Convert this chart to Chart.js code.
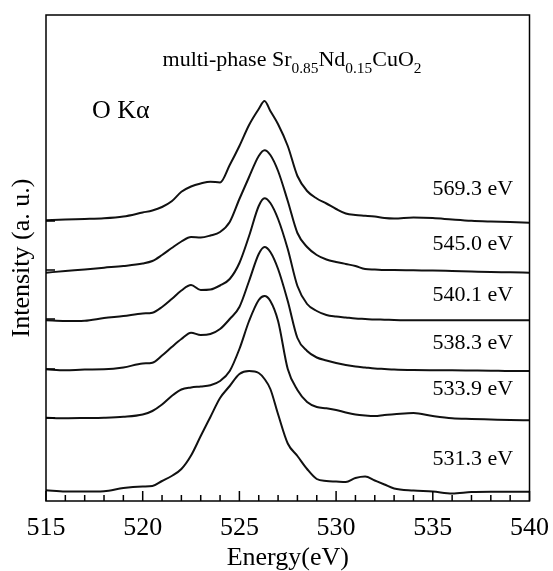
<!DOCTYPE html>
<html lang="en">
<head>
  <meta charset="UTF-8" />
  <title>O K-alpha emission spectra</title>
  <script src="https://cdn.jsdelivr.net/npm/chart.js"></script>
  <style>
    body { margin: 0; background: #fff; }
    #wrap { width: 553px; height: 571px; }
  </style>
</head>
<body>
  <div id="wrap"><canvas id="spectra"></canvas></div>

  <script>
    // energy grid (eV), shared by all spectra
    const energies = [515, 516, 517, 518, 519, 520, 520.5, 521, 521.5, 522, 522.5, 523, 523.5, 524, 524.5,
      525, 525.5, 526, 526.3, 526.6, 527, 527.5, 528, 528.5, 529, 529.5, 530, 530.5, 531, 531.5,
      532, 532.5, 533, 534, 535, 536, 537, 538, 539, 540];

    // excitation energies, top to bottom
    const excitation = ["569.3 eV", "545.0 eV", "540.1 eV", "538.3 eV", "533.9 eV", "531.3 eV"];

    // intensities (a.u., already stacked with offsets)
    const s569 = [280.7, 281.5, 282, 282.7, 284.5, 288.5, 290.5, 294, 299.7, 309.2, 314.5, 317.5, 319.3, 318.5, 336,
      355, 376, 392, 400, 390, 376.7, 355, 325, 310, 302.5, 297.5, 292, 287.5, 286, 285.3,
      284.5, 283, 282.5, 283.5, 283, 281.5, 280.2, 279.5, 279, 278.3];
    const s545 = [228.3, 230, 231.5, 233.3, 235, 237.5, 240, 246, 253, 259.5, 264, 263.5, 265.5, 269, 279,
      302, 324, 345, 350.7, 346, 330, 300, 268, 254, 246, 241.5, 239, 237, 235, 232,
      231.5, 231, 231, 230.7, 230.5, 230, 229.5, 229, 228.7, 228.3];
    const s540 = [180.7, 180, 180.3, 183, 185, 187.5, 188.3, 194, 202, 210.5, 216, 211, 211.5, 215.5, 222,
      238, 265, 295, 302.7, 298, 282, 252, 215, 197, 190, 186, 184.5, 183.5, 182.5, 182,
      181.5, 181.3, 181, 180.7, 180.7, 180.7, 180.7, 180.7, 180.7, 180.7];
    const s538 = [131.7, 130.7, 131.5, 131.7, 133.5, 137.5, 138.3, 145.5, 154, 162, 168.3, 166, 167, 172, 182,
      194, 220, 247, 254, 249, 232, 200, 163, 150, 143.5, 140.5, 138, 136, 134.5, 133.5,
      132.5, 132, 131.5, 131, 130.8, 130.7, 130.5, 130.3, 130, 130];
    const s533 = [83.3, 82.8, 83, 83.3, 84.2, 86.5, 90, 96.5, 105, 111.5, 113.5, 114.5, 115.7, 120, 130,
      152, 180, 201, 205, 200, 180, 132, 111, 99, 94, 92.7, 91, 88.5, 86.5, 85.5,
      85, 86, 86.7, 88, 85, 82.7, 82, 81.5, 81, 80.7];
    const s531 = [10.7, 9.5, 9.5, 9.8, 13, 14.5, 15, 20, 25, 32, 45.5, 65, 84, 103, 115,
      127, 130, 128, 122, 112, 86.7, 57.5, 45, 32, 22, 20, 19.5, 19, 23, 24.5,
      20.5, 16.5, 12.5, 10.5, 9.5, 7.5, 9, 9.3, 9.3, 9.3];

    const spectra = [s569, s545, s540, s538, s533, s531];

    // left-axis ticks sit at the spectra baselines
    const baselineTicks = [280, 231, 182, 132, 83];

    const serif = "'Liberation Serif', 'Times New Roman', serif";

    function drawParts(ctx, parts, x, y, size) {
      // text with subscripts, centred on x
      let total = 0;
      parts.forEach(p => {
        ctx.font = (p.sub ? size * 0.7 : size) + "px " + serif;
        total += ctx.measureText(p.t).width;
      });
      let cx = x - total / 2;
      parts.forEach(p => {
        ctx.font = (p.sub ? size * 0.7 : size) + "px " + serif;
        ctx.fillText(p.t, cx, p.sub ? y + size * 0.3 : y);
        cx += ctx.measureText(p.t).width;
      });
    }

    const decor = {
      id: "decor",
      afterDraw(chart) {
        const { ctx, chartArea: a, scales: { x, y } } = chart;
        ctx.save();
        ctx.strokeStyle = "#000";
        ctx.fillStyle = "#000";
        ctx.lineWidth = 1.5;
        ctx.strokeRect(a.left, a.top, a.right - a.left, a.bottom - a.top);

        // inward ticks
        ctx.beginPath();
        x.ticks.forEach(t => {
          const px = x.getPixelForValue(t.value);
          const len = t.value % 5 === 0 ? 10 : 6;
          ctx.moveTo(px, a.bottom);
          ctx.lineTo(px, a.bottom - len);
        });
        y.ticks.forEach(t => {
          const py = y.getPixelForValue(t.value);
          ctx.moveTo(a.left, py);
          ctx.lineTo(a.left + 9, py);
        });
        ctx.stroke();

        // excitation energy labels
        const labelY = [312, 257, 206, 158, 112, 42];
        ctx.font = "22px " + serif;
        ctx.textAlign = "right";
        ctx.textBaseline = "middle";
        excitation.forEach((txt, i) => {
          ctx.fillText(txt, x.getPixelForValue(539.15), y.getPixelForValue(labelY[i]));
        });

        // title and line label
        ctx.textAlign = "left";
        ctx.textBaseline = "alphabetic";
        drawParts(ctx, [
          { t: "multi-phase Sr" }, { t: "0.85", sub: true },
          { t: "Nd" }, { t: "0.15", sub: true },
          { t: "CuO" }, { t: "2", sub: true }
        ], 292, 66, 22);
        ctx.font = "26px " + serif;
        ctx.fillText("O K\u03b1", 92, 118);
        ctx.restore();
      }
    };

    new Chart(document.getElementById("spectra"), {
      type: "line",
      data: {
        datasets: spectra.map((vals, i) => ({
          label: excitation[i],
          data: energies.map((e, j) => ({ x: e, y: vals[j] })),
          borderColor: "#111",
          borderWidth: 2,
          pointRadius: 0,
          fill: false,
          cubicInterpolationMode: "monotone"
        }))
      },
      options: {
        responsive: true,
        maintainAspectRatio: false,
        animation: false,
        layout: { autoPadding: false, padding: { top: 15, right: 18, left: 0, bottom: 0 } },
        plugins: { legend: { display: false }, tooltip: { enabled: false } },
        scales: {
          x: {
            type: "linear",
            min: 515,
            max: 540,
            afterFit: s => { s.height = 70; },
            grid: { display: false },
            border: { display: false },
            ticks: {
              stepSize: 1,
              autoSkip: false,
              maxRotation: 0,
              padding: 4,
              color: "#000",
              font: { family: serif, size: 26 },
              callback: v => (v % 5 === 0 ? v : "")
            },
            title: {
              display: true,
              text: "Energy(eV)",
              color: "#000",
              font: { family: serif, size: 26, lineHeight: 1 },
              padding: 0
            }
          },
          y: {
            min: 0,
            max: 486,
            afterFit: s => { s.width = 46; },
            afterBuildTicks: s => { s.ticks = baselineTicks.map(v => ({ value: v })); },
            grid: { display: false },
            border: { display: false },
            ticks: { display: false },
            title: {
              display: true,
              text: "Intensity (a. u.)",
              color: "#000",
              font: { family: serif, size: 26, lineHeight: 1 },
              padding: { top: 9, bottom: 0 }
            }
          }
        }
      },
      plugins: [decor]
    });
  </script>
</body>
</html>
